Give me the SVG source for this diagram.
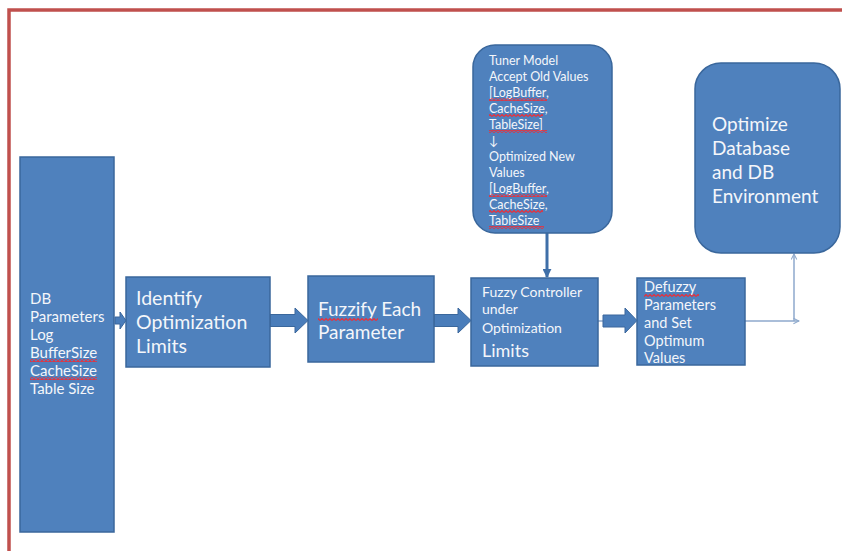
<svg xmlns="http://www.w3.org/2000/svg" width="842" height="551" viewBox="0 0 842 551">
<style>
.box{fill:#4F81BD;stroke:#3A679C;stroke-width:1.5}
.t{font-family:Lato,"Open Sans","Liberation Sans",sans-serif;fill:#F4F6FA}
.blk{fill:#4A7DBA;stroke:#3A679C;stroke-width:1}
.thin{fill:none;stroke:#8EA9CC;stroke-width:1.5}
</style>
<defs>
<pattern id="wave" width="4" height="3" patternUnits="userSpaceOnUse">
<path d="M0,2.5 L2,0.5 L4,2.5" fill="none" stroke="#E8303A" stroke-width="1.2"/>
</pattern>
<marker id="open" viewBox="0 0 10 10" refX="9" refY="5" markerWidth="7" markerHeight="7" orient="auto" markerUnits="userSpaceOnUse">
<path d="M1,1 L9,5 L1,9" fill="none" stroke="#8EA9CC" stroke-width="1.5"/>
</marker>
<marker id="tri" viewBox="0 0 10 10" refX="9" refY="5" markerWidth="9" markerHeight="9" orient="auto" markerUnits="userSpaceOnUse">
<path d="M0,0 L10,5 L0,10 Z" fill="#3F6FA8"/>
</marker>
</defs>
<rect width="842" height="551" fill="#FFFFFF"/>
<path d="M9,551 V10 H842" fill="none" stroke="#C0504D" stroke-width="3.5"/>

<g id="connectors">
<polygon class="blk" points="115,317 120,317 120,312 126,320.5 120,329 120,324 115,324"/>
<polygon class="blk" points="270,314.5 295,314.5 295,308 308,320.5 295,333 295,326.5 270,326.5"/>
<polygon class="blk" points="434,314.5 458,314.5 458,308 471,320.5 458,333 458,326.5 434,326.5"/>
<line x1="598" y1="321" x2="604" y2="321" stroke="#8EA9CC" stroke-width="1.5"/>
<polygon class="blk" points="603,315 625,315 625,308 637,320.5 625,333 625,327 603,327"/>
<line x1="547" y1="233" x2="547" y2="277" stroke="#3F6FA8" stroke-width="3" marker-end="url(#tri)"/>
<line class="thin" x1="745" y1="321" x2="799" y2="321" marker-end="url(#open)"/>
<line class="thin" x1="794" y1="321" x2="794" y2="254" marker-end="url(#open)"/>
</g>

<g id="db-params">
<rect class="box" x="20" y="157" width="94" height="375"/>
<text class="t" font-size="15">
<tspan x="30" y="304">DB</tspan>
<tspan x="30" y="322">Parameters</tspan>
<tspan x="30" y="340">Log</tspan>
<tspan x="30" y="358">BufferSize</tspan>
<tspan x="30" y="376">CacheSize</tspan>
<tspan x="30" y="394">Table Size</tspan>
</text>
<rect x="30" y="359" width="67" height="3" fill="url(#wave)"/>
<rect x="30" y="377" width="67" height="3" fill="url(#wave)"/>
</g>

<g id="identify">
<rect class="box" x="126" y="277" width="144" height="90"/>
<text class="t" font-size="19.5">
<tspan x="136" y="305">Identify</tspan>
<tspan x="136" y="329">Optimization</tspan>
<tspan x="136" y="353">Limits</tspan>
</text>
</g>

<g id="fuzzify">
<rect class="box" x="308" y="276" width="126" height="86"/>
<text class="t" font-size="19">
<tspan x="318" y="316">Fuzzify Each</tspan>
<tspan x="318" y="339">Parameter</tspan>
</text>
<rect x="318" y="318" width="60" height="3" fill="url(#wave)"/>
</g>

<g id="tuner">
<rect class="box" x="473" y="45" width="139" height="188" rx="22" ry="22"/>
<text class="t" font-size="12.5">
<tspan x="489" y="64.5">Tuner Model</tspan>
<tspan x="489" y="80.5">Accept Old Values</tspan>
<tspan x="489" y="96.5">[LogBuffer,</tspan>
<tspan x="489" y="112.5">CacheSize,</tspan>
<tspan x="489" y="128.5">TableSize]</tspan>
<tspan x="489" y="144.5">↓</tspan>
<tspan x="489" y="160.5">Optimized New</tspan>
<tspan x="489" y="176.5">Values</tspan>
<tspan x="489" y="192.5">[LogBuffer,</tspan>
<tspan x="489" y="208.5">CacheSize,</tspan>
<tspan x="489" y="224.5">TableSize</tspan>
</text>
<rect x="489" y="98" width="58" height="3" fill="url(#wave)"/>
<rect x="489" y="114" width="54" height="3" fill="url(#wave)"/>
<rect x="489" y="130" width="58" height="3" fill="url(#wave)"/>
<rect x="489" y="194" width="58" height="3" fill="url(#wave)"/>
<rect x="489" y="210" width="54" height="3" fill="url(#wave)"/>
<rect x="489" y="226" width="55" height="3" fill="url(#wave)"/>
</g>

<g id="fuzzy-controller">
<rect class="box" x="471" y="278" width="127" height="88"/>
<text class="t" font-size="14">
<tspan x="482" y="297">Fuzzy Controller</tspan>
<tspan x="482" y="314">under</tspan>
<tspan x="482" y="333">Optimization</tspan>
</text>
<text class="t" font-size="18" x="482" y="357">Limits</text>
</g>

<g id="defuzzy">
<rect class="box" x="637" y="278" width="108" height="87"/>
<text class="t" font-size="14.5">
<tspan x="644" y="292">Defuzzy</tspan>
<tspan x="644" y="310">Parameters</tspan>
<tspan x="644" y="328">and Set</tspan>
<tspan x="644" y="346">Optimum</tspan>
<tspan x="644" y="363">Values</tspan>
</text>
<rect x="644" y="294" width="55" height="3" fill="url(#wave)"/>
</g>

<g id="optimize">
<rect class="box" x="695" y="63" width="145" height="190" rx="26" ry="26"/>
<text class="t" font-size="19">
<tspan x="712" y="131">Optimize</tspan>
<tspan x="712" y="155">Database</tspan>
<tspan x="712" y="179">and DB</tspan>
<tspan x="712" y="203">Environment</tspan>
</text>
</g>
</svg>
